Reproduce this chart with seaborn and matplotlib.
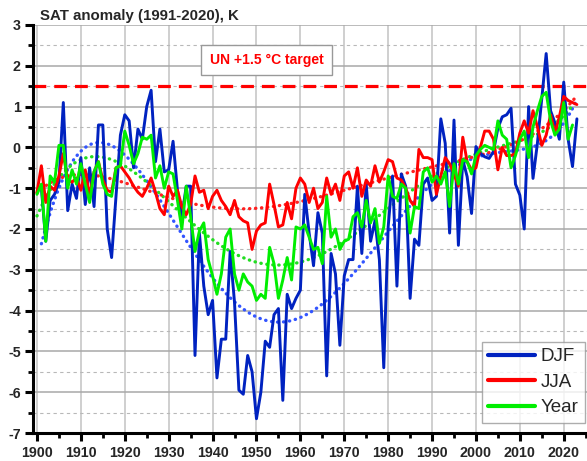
import matplotlib
matplotlib.use('Agg')
import matplotlib.pyplot as plt
import seaborn as sns
from matplotlib.ticker import MultipleLocator

# ---------------- data ----------------
djf_years = list(range(1901, 2024))
djf = [-1.0, -2.3, -1.3, -1.15, -0.85, 1.1, -1.55, -0.9, -1.25, -0.25,
       -1.4, -0.5, -1.45, 0.55, 0.55, -2.0, -2.7, -1.2, 0.3, 0.8,
       0.65, -0.5, 0.45, 0.2, 1.0, 1.4, -0.35, 0.45, -0.6, -0.55,
       0.15, -1.05, -1.7, -0.95, -0.95, -5.1, -2.1, -3.4, -4.1, -3.75,
       -5.65, -4.7, -4.7, -2.55, -3.8, -5.95, -6.05, -5.1, -5.5, -6.65,
       -6.0, -4.75, -4.9, -4.1, -3.95, -6.2, -3.6, -3.95, -3.7, -3.5,
       -1.15, -2.1, -2.9, -1.6, -2.1, -5.6, -2.6, -3.1, -4.85, -3.15,
       -2.75, -2.75, -0.95, -2.6, -0.9, -2.3, -1.8, -2.75, -5.4, -1.95,
       -0.7, -3.4, -0.65, -0.95, -3.7, -2.25, -2.4, -0.9, -0.75, -1.3,
       -1.2, 0.7, 0.1, -2.1, 0.67, -2.4, -0.3, -0.72, -1.62, 0.02,
       -0.15, -0.23, -0.27, -0.1, 0.47, 0.75, 0.8, 0.96, -0.9, -1.17,
       -2.0, 1.0, -0.76, 0.1, 1.2, 2.3, 0.9, 0.6, 0.2, 1.6,
       0.2, -0.47, 0.7]

jja_years = list(range(1900, 2024))
jja = [-1.1, -0.45, -1.35, -0.95, -1.05, -0.7, -0.15, -0.8, -0.85, -0.75,
       -1.05, -0.55, -1.2, -0.6, -0.35, -0.8, -1.05, -1.1, -0.5, -0.45,
       -0.6, -0.75, -0.95, -1.1, -1.2, -1.0, -0.75, -1.1, -1.5, -1.65,
       -0.95, -1.2, -1.05, -1.45, -1.65, -1.4, -0.7, -1.1, -1.05, -1.5,
       -1.2, -1.05, -1.3, -1.45, -1.65, -1.3, -1.7, -1.8, -1.85, -2.5,
       -2.05, -1.9, -1.85, -0.9, -1.4, -1.95, -1.9, -1.35, -1.75, -1.0,
       -0.75, -0.9, -1.35, -1.0, -1.5, -1.35, -0.75, -1.15, -0.9, -1.3,
       -0.7, -0.6, -1.0, -0.5, -1.2, -0.8, -0.95, -0.45, -0.85, -0.6,
       -0.3, -0.35, -0.75, -0.8, -1.0, -1.3, -1.45, -0.05, -0.25, -0.25,
       -0.3, -1.15, -0.7, -0.25, -0.4, -0.65, -0.95, 0.25, -0.35, -0.55,
       -0.5, 0.0, 0.4, 0.4, 0.2, -0.55, 0.0, -0.2, -0.2, -0.15,
       0.35, 0.65, 0.35, 0.9, 0.5, 0.05, 0.3, 0.8, 0.35, 0.75,
       1.25, 1.15, 1.1, 1.05]

ann_years = list(range(1900, 2023))
ann = [-1.15, -0.9, -2.3, -0.7, -0.85, 0.05, 0.05, -1.0, -0.55, -0.9,
       -0.4, -0.9, -1.35, -0.6, -0.35, -0.9, -1.15, -1.2, -0.5, -0.45,
       0.4, 0.05, -0.4, -0.15, 0.25, 0.2, 0.3, -0.75, -0.45, -1.0,
       -0.6, -0.65, -1.3, -2.0, -0.95, -1.7, -2.55, -2.05, -1.85, -2.75,
       -3.15, -3.6, -3.1, -2.2, -2.0, -3.1, -3.5, -3.1, -3.3, -3.4,
       -3.75, -3.6, -3.7, -2.45, -2.85, -3.7, -3.25, -2.7, -3.25, -1.95,
       -2.0, -1.9, -2.2, -2.5, -2.45, -2.85, -1.2, -2.2, -2.0, -2.5,
       -2.3, -2.25, -1.7, -1.6, -1.95, -1.3, -1.85, -1.5, -2.35, -1.95,
       -0.7, -1.2, -1.25, -0.9, -1.0, -2.1, -1.45, -1.5, -0.6, -0.5,
       -0.85, -0.7, -0.9, -0.6, -1.45, -0.4, -0.9, -0.3, -0.35, -0.65,
       -0.2, -0.05, 0.05, 0.0, -0.05, 0.65, 0.3, 0.2, -0.5, -0.2,
       0.2, 0.4, -0.25, 0.5, 0.9, 1.25, 1.35, 0.65, 0.3, 0.45,
       1.1, 0.2, 0.55]

target_value = 1.5
title_text = 'SAT anomaly (1991-2020), K'
target_text = 'UN +1.5 \u00b0C target'

# ---------------- style ----------------
sns.set_theme(style='white')
plt.rcParams['font.family'] = ['Liberation Sans', 'DejaVu Sans']
plt.rcParams['axes.unicode_minus'] = False

W, H = 587, 461
fig = plt.figure(figsize=(W / 100, H / 100), dpi=100)
ax = fig.add_axes([33.3 / W, 28 / H, 1 - 33.3 / W, 408 / H])

c_djf, c_jja, c_ann = '#0022c0', '#ff0000', '#00ee00'
lw = 2.1
dot = dict(lw=2.4, ls=(0, (0.1, 1.7)), dash_capstyle='round')
trend_order = 6

# trend curves (polynomial fit through seaborn)
sns.regplot(x=djf_years, y=djf, order=trend_order, scatter=False, ci=None,
            ax=ax, truncate=True, line_kws=dict(color='#3355ff', **dot))
sns.regplot(x=ann_years, y=ann, order=trend_order, scatter=False, ci=None,
            ax=ax, truncate=True, line_kws=dict(color='#22dd22', **dot))
sns.regplot(x=jja_years, y=jja, order=trend_order, scatter=False, ci=None,
            ax=ax, truncate=True, line_kws=dict(color='#ff2020', **dot))

sns.lineplot(x=djf_years, y=djf, ax=ax, color=c_djf, lw=lw, label='DJF')
sns.lineplot(x=jja_years, y=jja, ax=ax, color=c_jja, lw=lw, label='JJA')
sns.lineplot(x=ann_years, y=ann, ax=ax, color=c_ann, lw=lw, label='Year')

ax.axhline(target_value, color='#ff0000', lw=2.3, ls=(0, (4, 2.5)), zorder=1.5)

ax.set_xlim(1899.16, 2025.3)
ax.set_ylim(-7, 3)
ax.xaxis.set_major_locator(MultipleLocator(10))
ax.xaxis.set_minor_locator(MultipleLocator(5))
ax.yaxis.set_major_locator(MultipleLocator(1))
ax.yaxis.set_minor_locator(MultipleLocator(0.5))

ax.set_axisbelow(True)
ax.grid(which='major', axis='y', color='#a8a8a8', lw=1.1)
ax.grid(which='minor', axis='y', color='#b8b8b8', lw=0.8, ls=(0, (3, 3)))
ax.grid(which='major', axis='x', color='#cccccc', lw=1.3)

for s in ['top', 'right']:
    ax.spines[s].set_visible(False)
for s in ['left', 'bottom']:
    ax.spines[s].set_color('black')
    ax.spines[s].set_linewidth(2.2)

ax.tick_params(which='major', direction='out', length=6, width=2.2,
               color='black', labelsize=10.3, pad=3, left=True, bottom=True)
ax.tick_params(which='minor', direction='out', length=3.5, width=2.0,
               color='black', left=True, bottom=True)
for lab in ax.get_xticklabels() + ax.get_yticklabels():
    lab.set_fontweight('bold')
ax.set_xlabel('')
ax.set_ylabel('')

fig.text(40 / W, 1 - 16 / H, title_text, fontsize=10.8, fontweight='bold',
         va='center', ha='left')

ax.text(1952.3, 2.14, target_text, color='#ff0000', fontsize=10,
        fontweight='bold', ha='center', va='center',
        bbox=dict(facecolor='white', edgecolor='#999999', lw=1.0,
                  boxstyle='square,pad=0.6'))

leg = ax.legend(loc='lower right', bbox_to_anchor=(1.0, 0.02), fontsize=13.5,
                frameon=True, fancybox=False, edgecolor='#999999',
                handlelength=2.5, handletextpad=0.3, borderpad=0.35,
                labelspacing=0.45, borderaxespad=0.1)
leg.get_frame().set_linewidth(1.0)
for h in leg.get_lines():
    h.set_linewidth(3.0)

fig.savefig('out.png', dpi=100)
